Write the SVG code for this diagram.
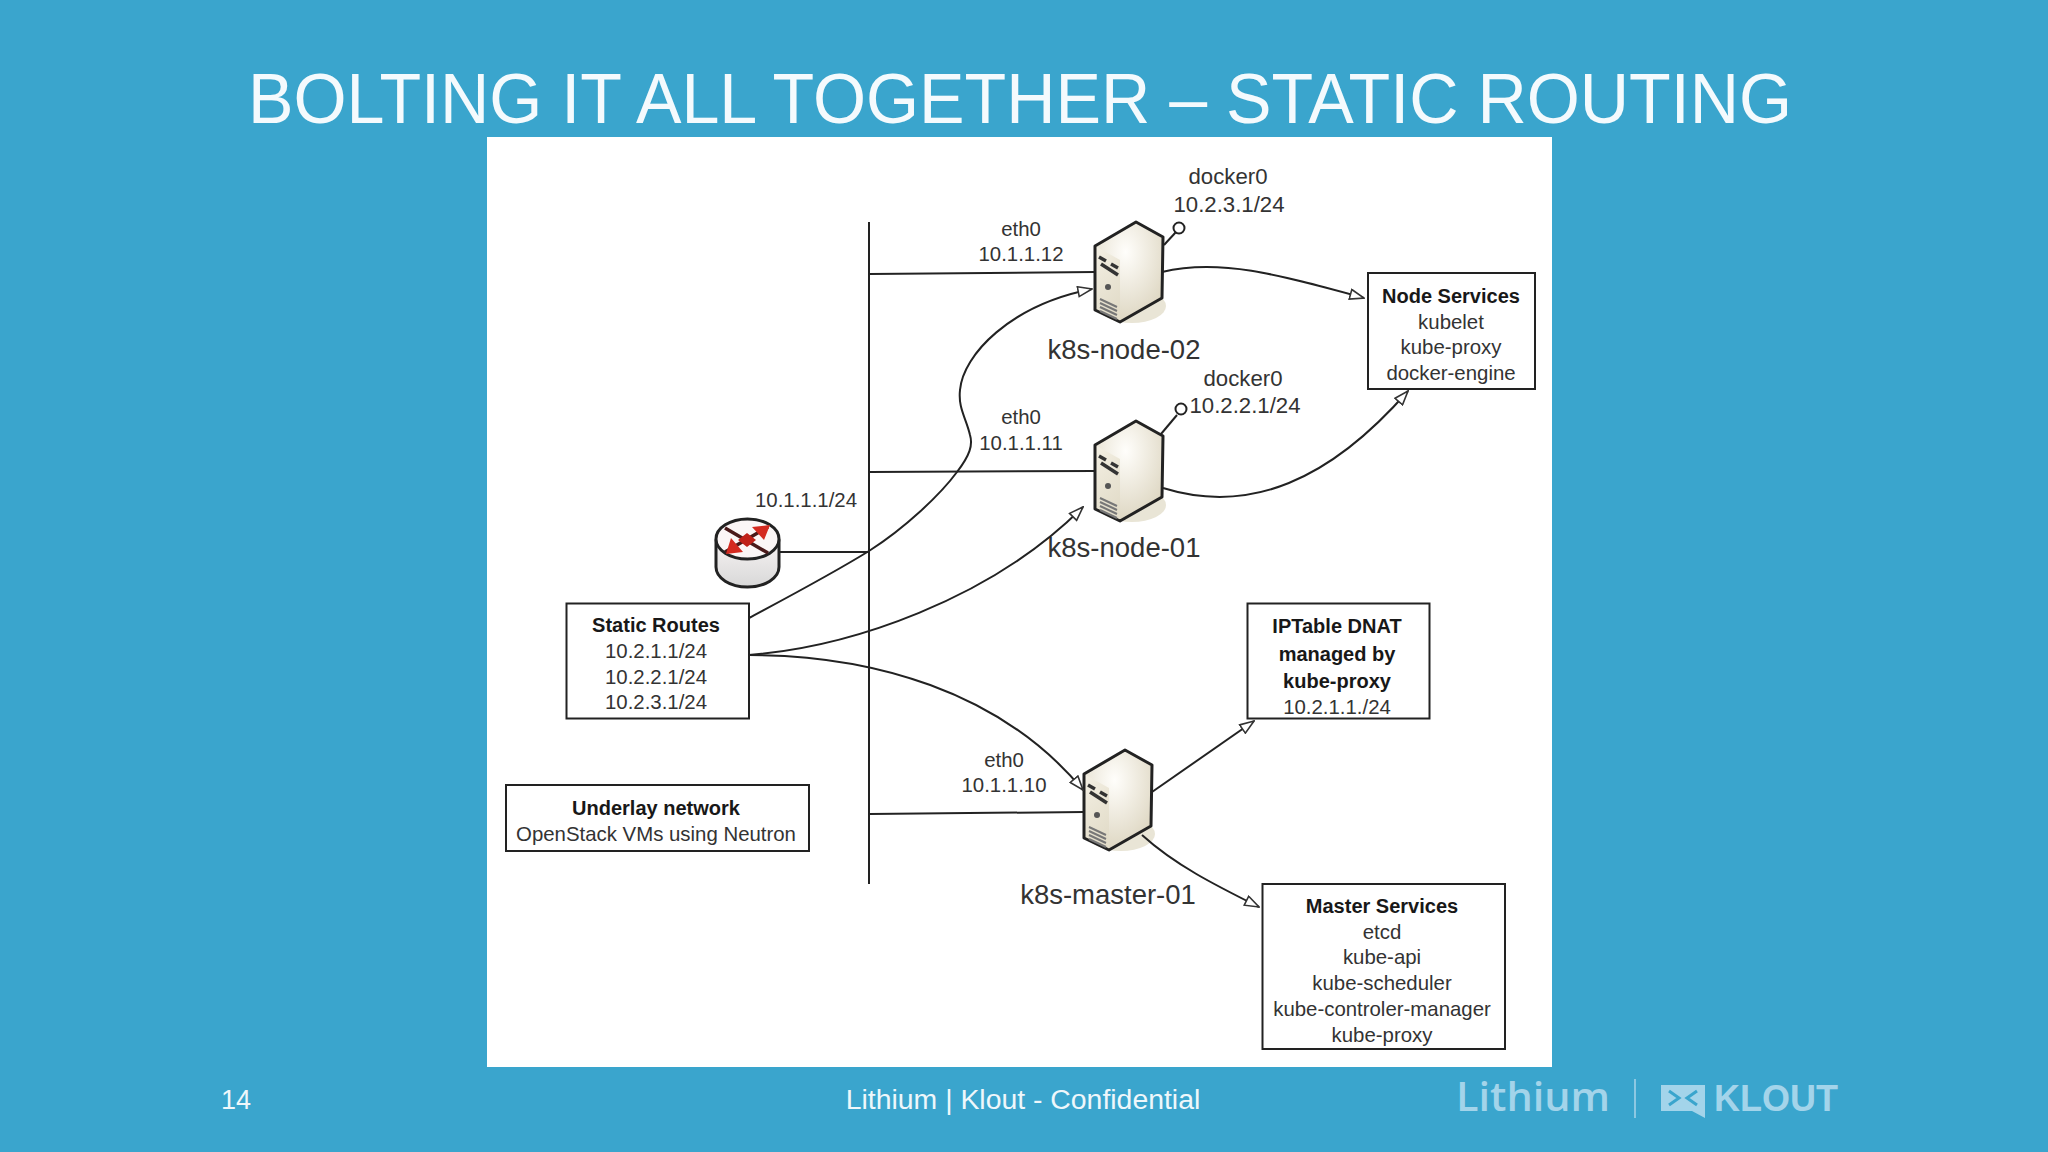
<svg xmlns="http://www.w3.org/2000/svg" width="2048" height="1152" viewBox="0 0 2048 1152">
<style>
text{font-family:"Liberation Sans",Arial,sans-serif;fill:#333}
.t{font-size:20.400px;text-anchor:middle}
.d{font-size:22.200px;text-anchor:middle}
.b{font-size:20px;text-anchor:middle;font-weight:700;fill:#181818}
.h{font-size:27.500px;text-anchor:middle}
.box{fill:#fff;stroke:#222;stroke-width:2}
.c{fill:none;stroke:#222;stroke-width:2}
.w{fill:#eef7fb}
.e{stroke:#222;stroke-width:3;stroke-linejoin:round}
.l{fill:#a3d4ea}
</style>
<defs>
<marker id="a" viewBox="0 0 16 12" refX="15" refY="6" markerWidth="16" markerHeight="12" markerUnits="userSpaceOnUse" orient="auto"><path d="M1 1L15 6L1 11Z" fill="#fff" stroke="#333" stroke-width="1.600"/></marker>
<linearGradient id="sf" x1="0" y1="0" x2="0.3" y2="1"><stop offset="0" stop-color="#f4f0e4"/><stop offset="1" stop-color="#e2dcc9"/></linearGradient>
<radialGradient id="ss" cx="0.45" cy="0.3" r="0.8"><stop offset="0" stop-color="#fffefb"/><stop offset="1" stop-color="#d9d1ba"/></radialGradient>
<linearGradient id="rb" x1="0" y1="0" x2="0" y2="1"><stop offset="0" stop-color="#f7f3f3"/><stop offset="1" stop-color="#d8d8d8"/></linearGradient>
<symbol id="server" overflow="visible">
<ellipse cx="-4" cy="84" rx="34" ry="17" fill="#e9e5d6"/>
<path d="M0 0L27 15L26 76L-16 100L-41 88L-41 24Z" fill="url(#ss)"/>
<path d="M-41 24L-16 38L-16 100L-41 88Z" fill="url(#sf)"/>
<path d="M0 0L27 15L26 76L-16 100L-41 88L-41 24Z" fill="none" stroke="#222" stroke-width="3" stroke-linejoin="round"/>
<path d="M-37 35L-30 39M-25 42L-18 46M-35 42L-18 53" stroke="#333" stroke-width="3.500" fill="none"/>
<circle cx="-28" cy="65" r="3" fill="#555"/>
<path d="M-36 77L-19 85M-36 81L-19 89M-36 85L-19 93M-36 89L-19 97" stroke="#777" stroke-width="2" fill="none"/>
</symbol>
</defs>
<rect width="2048" height="1152" fill="#3aa5cd"/>
<text x="1020" y="123" style="font-size:70px;text-anchor:middle;fill:#f4fafd" textLength="1544" lengthAdjust="spacingAndGlyphs">BOLTING IT ALL TOGETHER – STATIC ROUTING</text>
<rect x="487" y="137" width="1065" height="930" fill="#fff"/>

<g id="router">
<path d="M716 540V567A31.500 20 0 0 0 779 567V540Z" fill="url(#rb)" class="e"/>
<ellipse cx="747.500" cy="539" rx="31.500" ry="20" fill="#fbf6f6" class="e"/>
<path d="M725 528L768 553M768 527L725 552" stroke="#4a1a1a" stroke-width="3.500"/>
<path d="M747 533L756 540L747 547L738 540Z" fill="#c02018"/>
<path d="M770 525L752 527L764 540Z M726 554L743 552L731 538Z" fill="#d42a20"/>
<text x="806" y="507" class="t">10.1.1.1/24</text>
</g>

<g id="k8s-node-02">
<use href="#server" x="1136" y="222"/>
<circle cx="1179" cy="228" r="5.500" fill="#fff" stroke="#222" stroke-width="2"/>
<text x="1124" y="359" class="h">k8s-node-02</text>
<text x="1228" y="184" class="d">docker0</text>
<text x="1229" y="212" class="d">10.2.3.1/24</text>
<text x="1021" y="236" class="t">eth0</text>
<text x="1021" y="261" class="t">10.1.1.12</text>
</g>

<g id="k8s-node-01">
<use href="#server" x="1136" y="421"/>
<circle cx="1181" cy="409" r="5.500" fill="#fff" stroke="#222" stroke-width="2"/>
<text x="1124" y="557" class="h">k8s-node-01</text>
<text x="1243" y="386" class="d">docker0</text>
<text x="1245" y="413" class="d">10.2.2.1/24</text>
<text x="1021" y="424" class="t">eth0</text>
<text x="1021" y="450" class="t">10.1.1.11</text>
</g>

<g id="k8s-master-01">
<use href="#server" x="1125" y="750"/>
<text x="1108" y="904" class="h">k8s-master-01</text>
<text x="1004" y="767" class="t">eth0</text>
<text x="1004" y="792" class="t">10.1.1.10</text>
</g>

<g id="node-services">
<rect class="box" x="1368" y="273" width="167" height="116"/>
<text x="1451" y="303" class="b">Node Services</text>
<text x="1451" y="329" class="t">kubelet</text>
<text x="1451" y="354" class="t">kube-proxy</text>
<text x="1451" y="380" class="t">docker-engine</text>
</g>

<g id="static-routes">
<rect class="box" x="566.500" y="603.500" width="182.500" height="115"/>
<text x="656" y="632" class="b">Static Routes</text>
<text x="656" y="658" class="t">10.2.1.1/24</text>
<text x="656" y="684" class="t">10.2.2.1/24</text>
<text x="656" y="709" class="t">10.2.3.1/24</text>
</g>

<g id="iptable-dnat">
<rect class="box" x="1247.500" y="603.500" width="182" height="115"/>
<text x="1337" y="633" class="b">IPTable DNAT</text>
<text x="1337" y="661" class="b">managed by</text>
<text x="1337" y="688" class="b">kube-proxy</text>
<text x="1337" y="714" class="t">10.2.1.1./24</text>
</g>

<g id="underlay-network">
<rect class="box" x="506" y="785" width="303" height="66"/>
<text x="656" y="815" class="b">Underlay network</text>
<text x="656" y="841" class="t">OpenStack VMs using Neutron</text>
</g>

<g id="master-services">
<rect class="box" x="1262.500" y="884" width="242.500" height="165"/>
<text x="1382" y="913" class="b">Master Services</text>
<text x="1382" y="939" class="t">etcd</text>
<text x="1382" y="964" class="t">kube-api</text>
<text x="1382" y="990" class="t">kube-scheduler</text>
<text x="1382" y="1016" class="t">kube-controler-manager</text>
<text x="1382" y="1042" class="t">kube-proxy</text>
</g>

<g id="connectors">
<path class="c" d="M869 222V884"/>
<path class="c" d="M870 274L1095 272"/>
<path class="c" d="M870 472L1095 471"/>
<path class="c" d="M779 552L869 552"/>
<path class="c" d="M870 814L1084 812"/>
<path class="c" d="M1164 245L1176 232"/>
<path class="c" d="M1161 434L1177 415"/>
<path class="c" marker-end="url(#a)" d="M749 618C790 596 830 575 869 551C905 528 940 495 957 472C970 455 973 445 970 435C966 418 958 408 960 390C963 355 1010 305 1092 289"/>
<path class="c" marker-end="url(#a)" d="M749 655C850 647 990 600 1083 507"/>
<path class="c" marker-end="url(#a)" d="M749 655C870 655 1000 690 1083 790"/>
<path class="c" marker-end="url(#a)" d="M1162 272C1220 258 1280 275 1364 298"/>
<path class="c" marker-end="url(#a)" d="M1163 488C1250 515 1330 480 1408 391"/>
<path class="c" marker-end="url(#a)" d="M1152 792L1254 721"/>
<path class="c" marker-end="url(#a)" d="M1142 835C1175 865 1215 885 1259 907"/>
</g>

<g id="footer">
<text x="221" y="1109" class="w" style="font-size:27px">14</text>
<text x="1023" y="1109" class="w" style="font-size:28.400px;text-anchor:middle">Lithium | Klout - Confidential</text>
<text x="1456" y="1111" class="l" style="font-family:'Open Sans',sans-serif;font-size:39px;font-weight:600" textLength="154" lengthAdjust="spacingAndGlyphs">Lithium</text>
<path d="M1635 1079V1118" stroke="#8cc8e2" stroke-width="2"/>
<path d="M1661 1085H1705V1118L1692 1111H1661Z" class="l"/>
<path d="M1669 1091L1679 1098L1669 1105M1697 1091L1687 1098L1697 1105" fill="none" stroke="#3aa5cd" stroke-width="3"/>
<text x="1714" y="1111" class="l" style="font-weight:700;font-size:37px" textLength="124" lengthAdjust="spacingAndGlyphs">KLOUT</text>
</g>
</svg>
